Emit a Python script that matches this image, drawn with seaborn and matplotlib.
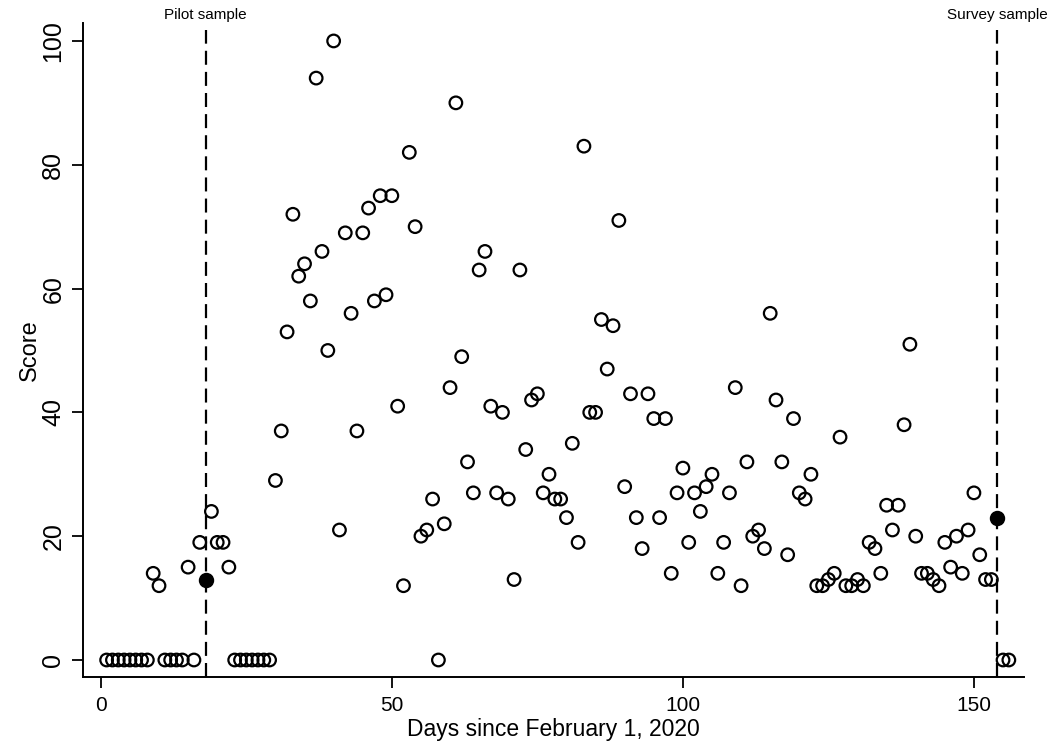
import numpy as np
import pandas as pd
import matplotlib
matplotlib.use("Agg")
import matplotlib.pyplot as plt
import seaborn as sns

# Daily scores, days 1..156 since February 1, 2020
days = list(range(1, 157))
scores = [
    0, 0, 0, 0, 0, 0, 0, 0, 14, 12,              # 1-10
    0, 0, 0, 0, 15, 0, 19, 13, 24, 19,           # 11-20
    19, 15, 0, 0, 0, 0, 0, 0, 0, 29,             # 21-30
    37, 53, 72, 62, 64, 58, 94, 66, 50, 100,     # 31-40
    21, 69, 56, 37, 69, 73, 58, 75, 59, 75,      # 41-50
    41, 12, 82, 70, 20, 21, 26, 0, 22, 44,       # 51-60
    90, 49, 32, 27, 63, 66, 41, 27, 40, 26,      # 61-70
    13, 63, 34, 42, 43, 27, 30, 26, 26, 23,      # 71-80
    35, 19, 83, 40, 40, 55, 47, 54, 71, 28,      # 81-90
    43, 23, 18, 43, 39, 23, 39, 14, 27, 31,      # 91-100
    19, 27, 24, 28, 30, 14, 19, 27, 44, 12,      # 101-110
    32, 20, 21, 18, 56, 42, 32, 17, 39, 27,      # 111-120
    26, 30, 12, 12, 13, 14, 36, 12, 12, 13,      # 121-130
    12, 19, 18, 14, 25, 21, 25, 38, 51, 20,      # 131-140
    14, 14, 13, 12, 19, 15, 20, 14, 21, 27,      # 141-150
    17, 13, 13, 23, 0, 0,                        # 151-156
]

sample_days = [18, 154]
sample_labels = ["Pilot sample", "Survey sample"]

x_ticks = [0, 50, 100, 150]
y_ticks = [0, 20, 40, 60, 80, 100]

df = pd.DataFrame({"day": days, "score": scores})
df["sampled"] = df["day"].isin(sample_days)

sns.set_style("ticks")
plt.rcParams["font.family"] = ["Liberation Sans", "DejaVu Sans"]
plt.rcParams["text.color"] = "black"
plt.rcParams["axes.labelcolor"] = "black"
plt.rcParams["xtick.color"] = "black"
plt.rcParams["ytick.color"] = "black"
plt.rcParams["axes.edgecolor"] = "black"

fig = plt.figure(figsize=(10.55, 7.49), dpi=100)
ax = fig.add_axes([0.079, 0.0961, 0.8916, 0.8732])

# open circles for ordinary days, filled for the sample days
sns.scatterplot(data=df[~df["sampled"]], x="day", y="score", ax=ax,
                marker="o", s=82, facecolor="none", edgecolor="black",
                linewidth=1.6)
sns.scatterplot(data=df[df["sampled"]], x="day", y="score", ax=ax,
                marker="o", s=90, color="black", edgecolor="black",
                linewidth=1.6, zorder=4)

for d, lab in zip(sample_days, sample_labels):
    ax.axvline(d, ymax=0.99, color="black", linestyle=(0, (6.3, 3.2)),
               linewidth=1.6, zorder=1)
    ax.text(d, 1.002, lab, transform=ax.get_xaxis_transform(),
            ha="center", va="bottom", fontsize=11)

ax.set_xlim(-3, 158.6)
ax.set_ylim(-2.75, 102.9)
ax.set_xticks(x_ticks)
ax.set_yticks(y_ticks)
ax.set_yticklabels([str(v) for v in y_ticks], rotation=90, va="center")

ax.tick_params(axis="both", length=8, width=1.3)
ax.tick_params(axis="x", labelsize=15, pad=6)
ax.tick_params(axis="y", labelsize=18, pad=5)
for side in ["top", "right"]:
    ax.spines[side].set_visible(False)
for side in ["left", "bottom"]:
    ax.spines[side].set_linewidth(1.4)

ax.set_xlabel("Days since February 1, 2020", fontsize=16.5, labelpad=2)
ax.set_ylabel("Score", fontsize=17, labelpad=0)

fig.savefig("out.png", dpi=100)
